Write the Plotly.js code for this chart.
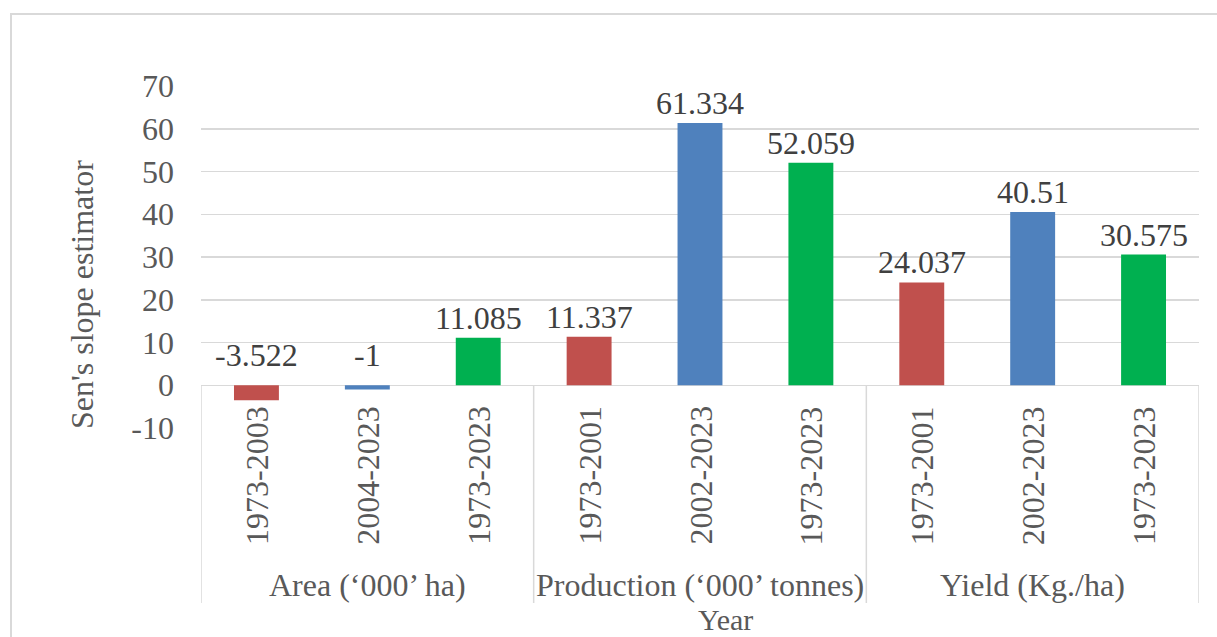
<!DOCTYPE html>
<html>
<head>
<meta charset="utf-8">
<script src="https://cdn.plot.ly/plotly-3.0.1.min.js"></script>
<style>
  html, body { margin: 0; padding: 0; background: #ffffff; }
  #wrap { position: relative; width: 1217px; height: 637px; overflow: hidden; background: #ffffff; }
  #frame { position: absolute; left: 10px; top: 13px; width: 1300px; height: 700px; border: 2px solid #d9d9d9; box-sizing: border-box; }
  #chart { position: absolute; left: 0; top: 0; width: 1217px; height: 637px; }
</style>
</head>
<body>
<div id="wrap">
  <div id="frame"></div>
  <div id="chart"></div>
</div>
<script>
// ---- data ----
const groups = ["Area (\u2018000\u2019 ha)", "Production (\u2018000\u2019 tonnes)", "Yield (Kg./ha)"];
const periods = ["1973-2003", "2004-2023", "1973-2023",
                 "1973-2001", "2002-2023", "1973-2023",
                 "1973-2001", "2002-2023", "1973-2023"];
const groupOf = [0, 0, 0, 1, 1, 1, 2, 2, 2];
const values = [-3.522, -1, 11.085, 11.337, 61.334, 52.059, 24.037, 40.51, 30.575];
const valueLabels = ["-3.522", "-1", "11.085", "11.337", "61.334", "52.059", "24.037", "40.51", "30.575"];
const yTicks = [-10, 0, 10, 20, 30, 40, 50, 60, 70];
const yTitle = "Sen's slope estimator";
const xTitle = "Year";

// ---- styles ----
const barColors = ["#C0504D", "#4F81BD", "#00B050",
                   "#C0504D", "#4F81BD", "#00B050",
                   "#C0504D", "#4F81BD", "#00B050"];
const FONT = "Liberation Serif, Times New Roman, serif";
const FS = 32;
const yMin = -10, yMax = 70;
const L = 201, R = 18, T = 86, B = 209;
const W = 1217, H = 637;
const plotW = W - L - R, plotH = H - T - B;
const py = px => (H - B - px) / plotH;      // pixel row -> paper y
const zeroPaper = (0 - yMin) / (yMax - yMin);

const xs = values.map((v, i) => i);

const annotations = [];
// value labels
values.forEach((v, i) => {
  annotations.push({
    x: xs[i], xref: "x", y: Math.max(v, 0), yref: "y",
    text: valueLabels[i], showarrow: false,
    xanchor: "center", yanchor: "bottom",
    yshift: v < 0 ? 10 : 0,
    font: { family: FONT, size: FS, color: "#404040" }
  });
});
// rotated period labels
periods.forEach((p, i) => {
  annotations.push({
    x: xs[i], xref: "x", y: py(404), yref: "paper",
    text: p, showarrow: false, textangle: -90,
    xanchor: "center", yanchor: "top",
    font: { family: FONT, size: FS, color: "#595959" }
  });
});
// group labels
groups.forEach((g, gi) => {
  const idx = groupOf.map((v, i) => v === gi ? i : null).filter(v => v !== null);
  const cx = (xs[idx[0]] + xs[idx[idx.length - 1]]) / 2;
  annotations.push({
    x: cx, xref: "x", y: py(585), yref: "paper",
    text: g, showarrow: false, xanchor: "center", yanchor: "middle",
    font: { family: FONT, size: FS, color: "#595959" }
  });
});
// x title
annotations.push({
  x: (725 - L) / plotW, xref: "paper", y: py(619), yref: "paper",
  text: xTitle, showarrow: false, xanchor: "center", yanchor: "middle",
  font: { family: FONT, size: 30, color: "#595959" }
});
// y title
annotations.push({
  x: (82 - L) / plotW, xref: "paper", y: py(295), yref: "paper",
  text: yTitle, showarrow: false, textangle: -90, xanchor: "center", yanchor: "middle",
  font: { family: FONT, size: FS, color: "#595959" }
});

// group divider lines
const shapes = [];
const dividers = [-0.5];
groups.forEach((g, gi) => {
  const idx = groupOf.map((v, i) => v === gi ? i : null).filter(v => v !== null);
  dividers.push(xs[idx[idx.length - 1]] + 0.5);
});
dividers.forEach(d => {
  shapes.push({
    type: "line", xref: "x", yref: "paper",
    x0: d, x1: d, y0: zeroPaper, y1: py(603),
    line: { color: "#d9d9d9", width: 1.5 }, layer: "below"
  });
});

const trace = {
  type: "bar",
  x: xs,
  y: values,
  marker: { color: barColors, line: { width: 0 } },
  width: 0.405,
  hoverinfo: "skip"
};

const layout = {
  width: W, height: H,
  margin: { l: L, r: R, t: T, b: B, pad: 0 },
  paper_bgcolor: "rgba(0,0,0,0)",
  plot_bgcolor: "rgba(0,0,0,0)",
  showlegend: false,
  font: { family: FONT, color: "#595959" },
  xaxis: {
    range: [-0.5, xs.length - 0.5],
    showticklabels: false, showgrid: false, zeroline: false,
    showline: false, ticks: ""
  },
  yaxis: {
    range: [yMin, yMax],
    tickvals: yTicks,
    ticktext: yTicks.map(String),
    showgrid: true, gridcolor: "#d9d9d9", gridwidth: 1.5,
    zeroline: true, zerolinecolor: "#d9d9d9", zerolinewidth: 1.5,
    showline: false, ticks: "",
    ticklabelstandoff: 26,
    tickfont: { family: FONT, size: FS, color: "#595959" }
  },
  annotations: annotations,
  shapes: shapes
};

Plotly.newPlot("chart", [trace], layout, { displayModeBar: false, staticPlot: true });
</script>
</body>
</html>
